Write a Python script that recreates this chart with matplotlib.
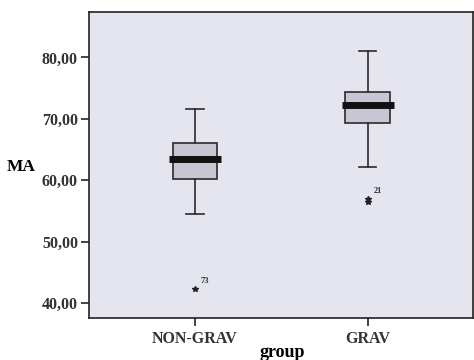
import matplotlib
matplotlib.use("Agg")
import matplotlib.pyplot as plt

# Box summary per group
groups = ["NON-GRAV", "GRAV"]
whislo = [54.5, 62.1]
q1 = [60.2, 69.3]
med = [63.5, 72.2]
q3 = [66.1, 74.4]
whishi = [71.6, 81.1]
outliers = [[42.4], [57.0, 56.4]]
outlier_ids = ["73", "21"]

yticks = [40, 50, 60, 70, 80]

plt.rcParams["font.family"] = ["Liberation Serif", "DejaVu Serif"]

stats = []
for i, g in enumerate(groups):
    stats.append(dict(label=g, whislo=whislo[i], q1=q1[i], med=med[i],
                      q3=q3[i], whishi=whishi[i], fliers=outliers[i]))

fig = plt.figure(figsize=(4.74, 3.6), dpi=100)
ax = fig.add_axes([89 / 474, 1 - 318 / 360, 384 / 474, 306 / 360])
ax.set_facecolor("#e5e5ef")

ax.bxp(stats, positions=[1, 2], widths=0.26, patch_artist=True,
       boxprops=dict(facecolor="#c9c6d3", edgecolor="#2a2a2a", linewidth=1.2),
       medianprops=dict(color="#111111", linewidth=0),
       whiskerprops=dict(color="#2a2a2a", linewidth=1.2),
       capprops=dict(color="#2a2a2a", linewidth=1.2),
       flierprops=dict(marker="*", markersize=4, markerfacecolor="#222222",
                       markeredgecolor="#222222"),
       capwidths=0.1)

# thick median bars, slightly wider than the box
ax.hlines(med, [p - 0.15 for p in (1, 2)], [p + 0.15 for p in (1, 2)],
          colors="#111111", linewidth=5, zorder=5)

for i, ids in enumerate(outlier_ids):
    ax.annotate(ids, (i + 1, max(outliers[i])), xytext=(4, 4),
                textcoords="offset points", fontsize=6, fontweight="bold",
                color="#333333")

ax.set_xlim(0.386, 2.61)
ax.set_ylim(37.6, 87.4)
ax.set_xticks([1, 2])
ax.set_xticklabels(groups)
ax.set_yticks(yticks)
ax.set_yticklabels([f"{v},00" for v in yticks])
ax.tick_params(axis="both", length=6, width=1.2, labelsize=11.5, color="#222222")
ax.tick_params(axis="y", pad=2)
for lbl in ax.get_xticklabels() + ax.get_yticklabels():
    lbl.set_fontweight("bold")
    lbl.set_color("#333333")

for s in ax.spines.values():
    s.set_linewidth(1.2)
    s.set_color("#222222")

ax.set_xlabel("group", fontsize=13, fontweight="bold", va="center")
ax.xaxis.set_label_coords(0.503, -0.114)
ax.set_ylabel("MA", fontsize=12.5, fontweight="bold", rotation=0,
              va="center", ha="center")
ax.yaxis.set_label_coords(-0.177, 0.493)

fig.savefig("out.png", dpi=100)
